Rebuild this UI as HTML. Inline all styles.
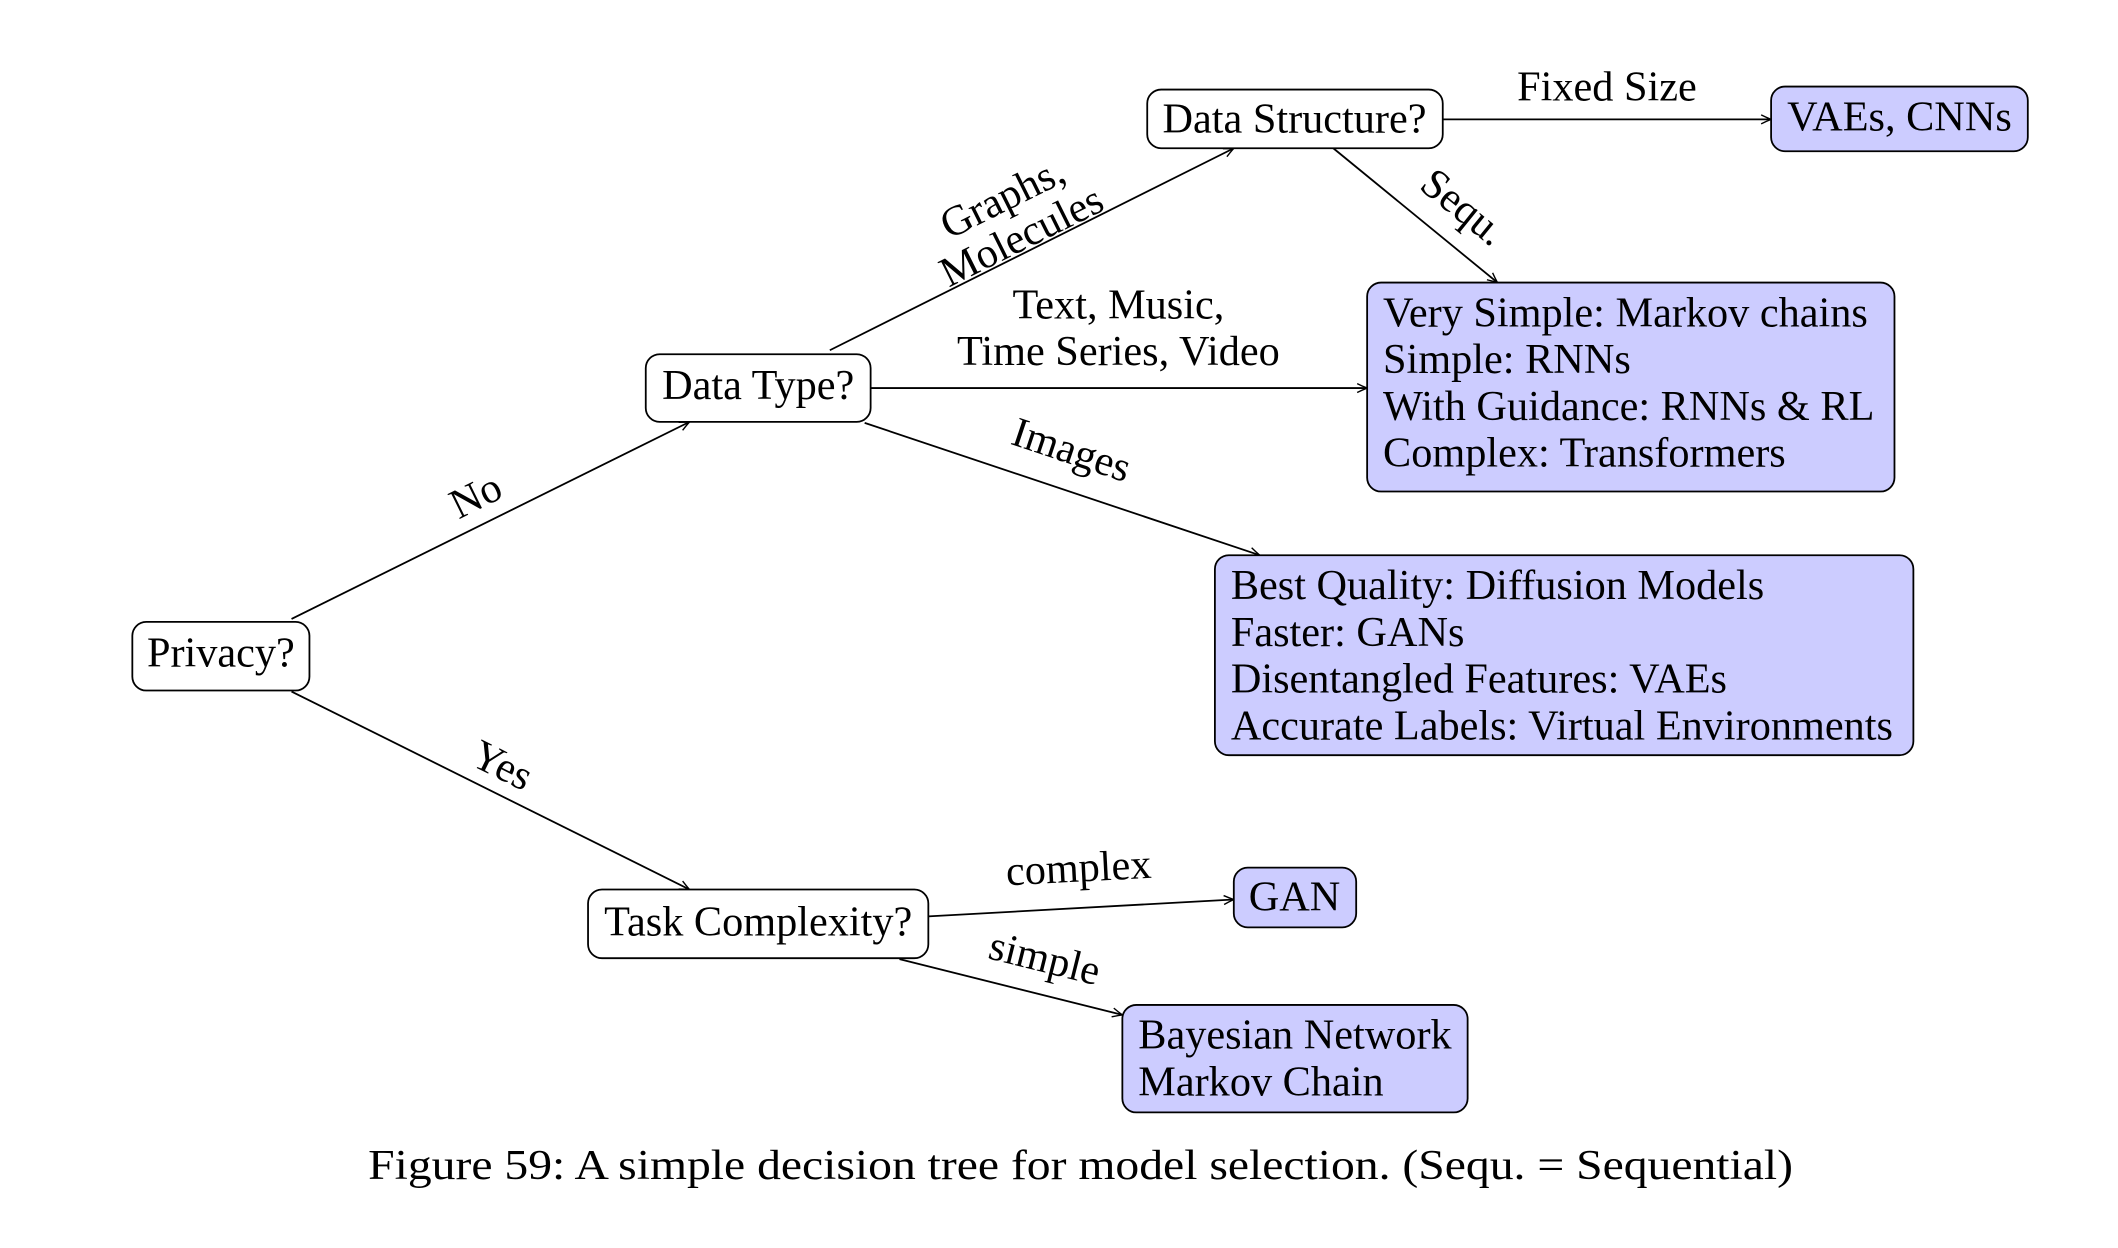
<!DOCTYPE html>
<html><head><meta charset="utf-8"><style>
html,body{margin:0;padding:0;background:#fff;}
svg{display:block;}
text{font-family:"Liberation Serif",serif;fill:#000;}
.n{font-size:42.5px;}
</style></head><body>
<svg width="2118" height="1248" viewBox="0 0 2118 1248">
<defs>
<marker id="ar" viewBox="0 0 12 12" refX="11" refY="6" markerWidth="12" markerHeight="12" markerUnits="userSpaceOnUse" orient="auto">
<path d="M1,1.5 Q6,4 11,6 Q6,8 1,10.5" fill="none" stroke="#000" stroke-width="1.4"/>
</marker>
</defs>
<g transform="scale(0.995)">
<g stroke="#000" stroke-width="1.8" fill="none" marker-end="url(#ar)">
<line x1="293" y1="622" x2="693" y2="424"/>
<line x1="293" y1="695" x2="693" y2="894"/>
<line x1="834" y1="352" x2="1240" y2="149"/>
<line x1="875" y1="390" x2="1374" y2="390"/>
<line x1="869" y1="425" x2="1266" y2="558"/>
<line x1="1450" y1="120" x2="1780" y2="120"/>
<line x1="1340" y1="149" x2="1505" y2="284"/>
<line x1="933" y1="921" x2="1240" y2="904"/>
<line x1="904" y1="964" x2="1128" y2="1020"/>
</g>
<g stroke="#000" stroke-width="1.8">
<rect x="133" y="625" width="178" height="69" rx="14" fill="#fff"/>
<rect x="649" y="356" width="226" height="68" rx="14" fill="#fff"/>
<rect x="1153" y="90" width="297" height="59" rx="14" fill="#fff"/>
<rect x="591" y="894" width="342" height="69" rx="14" fill="#fff"/>
<rect x="1780" y="87" width="258" height="65" rx="14" fill="#ccccff"/>
<rect x="1374" y="284" width="530" height="210" rx="14" fill="#ccccff"/>
<rect x="1221" y="558" width="702" height="201" rx="14" fill="#ccccff"/>
<rect x="1240" y="872" width="123" height="60" rx="14" fill="#ccccff"/>
<rect x="1128" y="1010" width="347" height="108" rx="14" fill="#ccccff"/>
</g>
<g class="n">
<text x="222" y="670" text-anchor="middle">Privacy?</text>
<text x="762" y="401" text-anchor="middle">Data Type?</text>
<text x="1301" y="133" text-anchor="middle">Data Structure?</text>
<text x="762" y="940" text-anchor="middle">Task Complexity?</text>
<text x="1909" y="131" text-anchor="middle">VAEs, CNNs</text>
<text x="1301" y="915" text-anchor="middle">GAN</text>
<g>
<text x="1390" y="328">Very Simple: Markov chains</text>
<text x="1390" y="375">Simple: RNNs</text>
<text x="1390" y="422">With Guidance: RNNs &amp; RL</text>
<text x="1390" y="469">Complex: Transformers</text>
</g>
<g>
<text x="1237" y="602">Best Quality: Diffusion Models</text>
<text x="1237" y="649">Faster: GANs</text>
<text x="1237" y="696">Disentangled Features: VAEs</text>
<text x="1237" y="743">Accurate Labels: Virtual Environments</text>
</g>
<g>
<text x="1144" y="1054">Bayesian Network</text>
<text x="1144" y="1101">Markov Chain</text>
</g>
<text x="478" y="512" text-anchor="middle" transform="rotate(-26.3 478 498)">No</text>
<text x="505" y="783" text-anchor="middle" transform="rotate(26.4 505 769)">Yes</text>
<g transform="rotate(-26.5 1018 220)">
<text x="1018" y="210" text-anchor="middle">Graphs,</text>
<text x="1018" y="253" text-anchor="middle">Molecules</text>
</g>
<text x="1124" y="320" text-anchor="middle">Text, Music,</text>
<text x="1124" y="367" text-anchor="middle">Time Series, Video</text>
<text x="1077" y="466" text-anchor="middle" transform="rotate(18.5 1077 452)">Images</text>
<text x="1615" y="101" text-anchor="middle">Fixed Size</text>
<text x="1471" y="222" text-anchor="middle" transform="rotate(39 1471 208)">Sequ.</text>
<text x="1084" y="886" text-anchor="middle" transform="rotate(-3 1084 872)">complex</text>
<text x="1050" y="977" text-anchor="middle" transform="rotate(14 1050 963)">simple</text>
</g>
<text x="1086" y="1185" text-anchor="middle" font-size="43" textLength="1432" lengthAdjust="spacingAndGlyphs">Figure 59: A simple decision tree for model selection. (Sequ. = Sequential)</text>
</g>
</svg>
</body></html>
